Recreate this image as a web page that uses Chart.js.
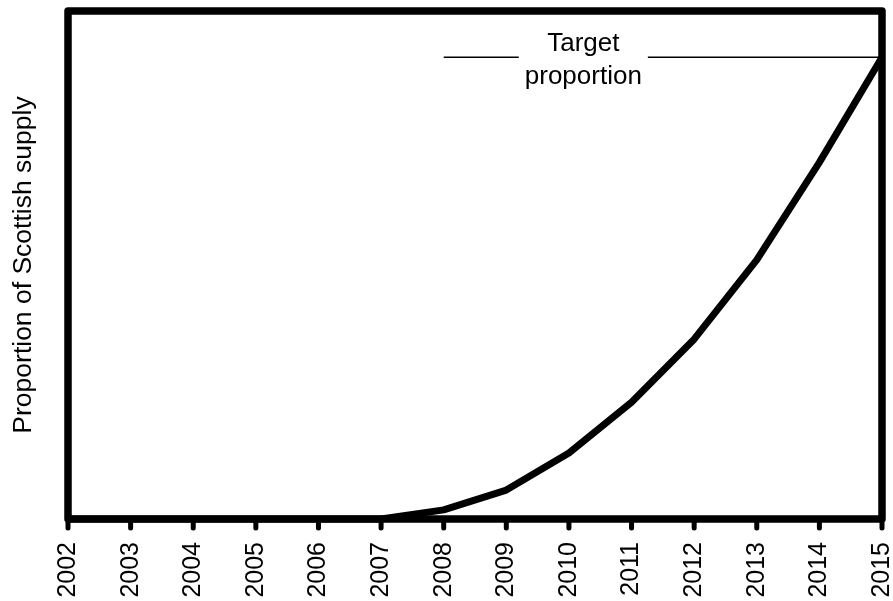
<!DOCTYPE html>
<html>
<head>
<meta charset="utf-8">
<script src="https://cdn.jsdelivr.net/npm/chart.js@4/dist/chart.umd.min.js"></script>
<style>
  html, body { margin: 0; padding: 0; background: #fff; }
  #wrap { width: 893px; height: 601px; }
</style>
</head>
<body>
<div id="wrap"><canvas id="supplyChart" width="893" height="601"></canvas></div>
<script>
// years along the bottom
const years = [2002, 2003, 2004, 2005, 2006, 2007, 2008, 2009, 2010, 2011, 2012, 2013, 2014, 2015];
// proportion of supply (arbitrary 0-100 scale, no y ticks on the original)
const proportion = [0, 0, 0, 0, 0, 0, 1.8, 5.7, 13.0, 23.0, 35.4, 51.0, 70.2, 90.9];
const targetValue = 90.9;
const targetLabel = ['Target', 'proportion'];
const targetFrom = 2008;
const targetLabelAt = 2010.23;

const FONT = '"Liberation Sans", Arial, Helvetica, sans-serif';

// box round the plot + the target annotation
const frameAndTarget = {
    id: 'frameAndTarget',
    afterDatasetsDraw(chart) {
        const { ctx, chartArea: a, scales: { x, y } } = chart;
        const ty = y.getPixelForValue(targetValue);
        const cx = x.getPixelForValue(targetLabelAt);
        ctx.save();
        ctx.font = '26px ' + FONT;
        const w = Math.max(...targetLabel.map(t => ctx.measureText(t).width));
        ctx.strokeStyle = '#000';
        ctx.lineWidth = 1.5;
        ctx.beginPath();
        ctx.moveTo(x.getPixelForValue(targetFrom), ty);
        ctx.lineTo(cx - w / 2 - 6, ty);
        ctx.moveTo(cx + w / 2 + 6, ty);
        ctx.lineTo(a.right, ty);
        ctx.stroke();
        ctx.fillStyle = '#000';
        ctx.textAlign = 'center';
        ctx.textBaseline = 'middle';
        ctx.fillText(targetLabel[0], cx, ty - 13);
        ctx.fillText(targetLabel[1], cx, ty + 20);

        // ticks with round ends
        ctx.lineWidth = 5;
        ctx.lineCap = 'round';
        ctx.beginPath();
        years.forEach(yr => {
            const px = x.getPixelForValue(yr);
            ctx.moveTo(px, a.bottom);
            ctx.lineTo(px, a.bottom + 9);
        });
        ctx.stroke();

        ctx.lineWidth = 7.5;
        ctx.lineJoin = 'round';
        ctx.lineCap = 'butt';
        ctx.strokeRect(a.left, a.top, a.right - a.left, a.bottom - a.top);
        ctx.restore();
    }
};

const ctx = document.getElementById('supplyChart').getContext('2d');
const supplyChart = new Chart(ctx, {
    type: 'line',
    data: {
        datasets: [{
            data: years.map((yr, i) => ({ x: yr, y: proportion[i] })),
            borderColor: '#000',
            borderWidth: 7,
            borderJoinStyle: 'round',
            pointRadius: 0,
            tension: 0,
            clip: false
        }]
    },
    options: {
        responsive: false,
        animation: false,
        events: [],
        layout: { padding: { top: 11, right: 11, left: 0, bottom: 0 } },
        plugins: { legend: { display: false }, tooltip: { enabled: false } },
        scales: {
            x: {
                type: 'linear',
                min: 2002,
                max: 2015,
                afterFit: (s) => { s.height = 82; s.paddingLeft = 0; s.paddingRight = 0; },
                afterBuildTicks: (s) => { s.ticks = years.map(v => ({ value: v })); },
                grid: { display: false },
                border: { display: false },
                ticks: {
                    autoSkip: false,
                    minRotation: 90,
                    maxRotation: 90,
                    padding: 15,
                    color: '#000',
                    font: { family: FONT, size: 25 },
                    callback: (v) => String(v)
                }
            },
            y: {
                min: 0,
                max: 100,
                afterFit: (s) => { s.width = 68; s.paddingTop = 0; s.paddingBottom = 0; },
                grid: { display: false },
                border: { display: false },
                ticks: { display: false },
                title: {
                    display: true,
                    text: 'Proportion of Scottish supply',
                    color: '#000',
                    font: { family: FONT, size: 26.5 },
                    padding: { top: 8, bottom: 0 }
                }
            }
        }
    },
    plugins: [frameAndTarget]
});
</script>
</body>
</html>
